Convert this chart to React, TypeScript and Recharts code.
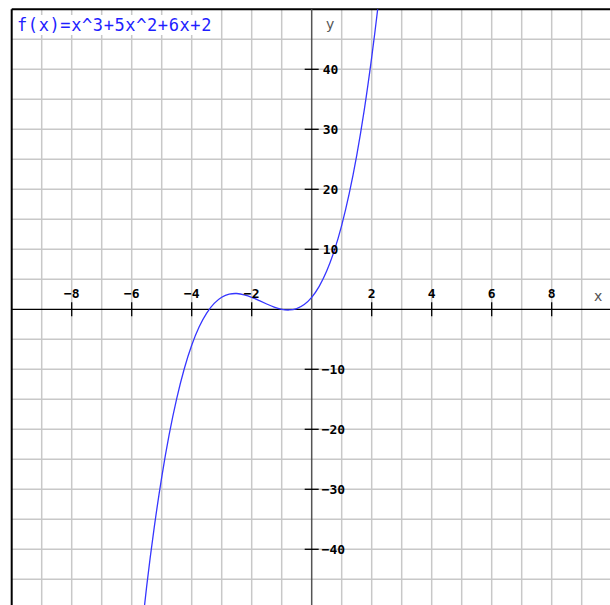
import React from 'react';
import { LineChart, Line, XAxis, YAxis, ReferenceLine, ReferenceDot } from 'recharts';

const xValues = [-5.75, -5.5, -5.25, -5, -4.75, -4.5, -4.25, -4, -3.75, -3.5, -3.25, -3, -2.75, -2.5, -2.25, -2, -1.75, -1.5, -1.25, -1, -0.75, -0.5, -0.25, 0, 0.25, 0.5, 0.75, 1, 1.25, 1.5, 1.75, 2, 2.25, 2.5];
const yValues = [-57.3, -46.13, -36.39, -28, -20.86, -14.88, -9.95, -6, -2.92, -0.63, 0.98, 2, 2.52, 2.63, 2.42, 2, 1.45, 0.88, 0.36, 0, -0.11, 0.13, 0.8, 2, 3.83, 6.38, 9.73, 14, 19.27, 25.63, 33.17, 42, 52.2, 63.9];

const xGridTicks = [-9, -8, -7, -6, -5, -4, -3, -2, -1, 1, 2, 3, 4, 5, 6, 7, 8, 9];
const yGridTicks = [-50, -45, -40, -35, -30, -25, -20, -15, -10, -5, 5, 10, 15, 20, 25, 30, 35, 40, 45];
const xTickLabels = [-8, -6, -4, -2, 2, 4, 6, 8];
const yTickLabels = [-40, -30, -20, -10, 10, 20, 30, 40];

const title = 'f(x)=x^3+5x^2+6x+2';

const data = xValues.map((x, i) => ({ x, y: yValues[i] }));

const fmt = (v: number) => (v < 0 ? '\u2212' + Math.abs(v) : String(v));

const labelFont = '"DejaVu Sans Mono", monospace';

const XTick = (value: number) => (props: any) => {
  const { cx, cy } = props;
  return (
    <g>
      <line x1={cx} x2={cx} y1={cy - 7} y2={cy + 7} stroke="#000" strokeWidth={1.3} />
      <text x={cx} y={cy - 11.5} textAnchor="middle" fontFamily={labelFont} fontWeight="bold" fontSize={13} fill="#000">
        {fmt(value)}
      </text>
    </g>
  );
};

const YTick = (value: number) => (props: any) => {
  const { cx, cy } = props;
  return (
    <g>
      <line x1={cx - 7} x2={cx + 7} y1={cy} y2={cy} stroke="#000" strokeWidth={1.3} />
      <text x={value < 0 ? cx + 10 : cx + 11} y={cy + 4.5} textAnchor="start" fontFamily={labelFont} fontWeight="bold" fontSize={13} fill="#000">
        {fmt(value)}
      </text>
    </g>
  );
};

export default function App() {
  return (
    <div style={{ position: 'fixed', left: 0, top: 0, width: 610, height: 605, overflow: 'hidden', background: '#fff' }}>
      <div style={{ position: 'absolute', left: 0, top: 0 }}>
        <LineChart width={611.7} height={609.3} data={data} margin={{ top: 9.3, left: 11.7, right: 0, bottom: 0 }}>
          <XAxis
            type="number"
            dataKey="x"
            domain={[-10, 10]}
            allowDataOverflow
            hide
          />
          <YAxis
            type="number"
            domain={[-50, 50]}
            allowDataOverflow
            hide
          />
          {xGridTicks.map((v) => (
            <ReferenceLine key={'gx' + v} x={v} stroke="#c8c8c8" strokeWidth={1.5} />
          ))}
          {yGridTicks.map((v) => (
            <ReferenceLine key={'gy' + v} y={v} stroke="#c8c8c8" strokeWidth={1.5} />
          ))}
          <ReferenceLine x={-10} stroke="#000" strokeWidth={2} />
          <ReferenceLine y={50} stroke="#000" strokeWidth={2} />
          <ReferenceLine y={0} stroke="#000" strokeWidth={1.3} />
          <ReferenceLine x={0} stroke="#555" strokeWidth={1.5} />
          <Line
            type="natural"
            dataKey="y"
            stroke="#3636ff"
            strokeWidth={1.3}
            dot={false}
            isAnimationActive={false}
          />
          {xTickLabels.map((v) => (
            <ReferenceDot key={'x' + v} x={v} y={0} r={0} shape={XTick(v)} />
          ))}
          {yTickLabels.map((v) => (
            <ReferenceDot key={'y' + v} x={0} y={v} r={0} shape={YTick(v)} />
          ))}
        </LineChart>
      </div>
      <div
        style={{
          position: 'absolute',
          left: 13,
          top: 15,
          height: 20,
          width: 200,
          background: '#fff',
          color: '#1f1fff',
          fontFamily: labelFont,
          fontSize: 17,
          letterSpacing: 0.6,
          lineHeight: '20px',
          paddingLeft: 4,
          whiteSpace: 'nowrap',
        }}
      >
        {title}
      </div>
      <div style={{ position: 'absolute', left: 326, top: 15, color: '#555', fontFamily: '"DejaVu Sans", sans-serif', fontSize: 14, lineHeight: '18px' }}>y</div>
      <div style={{ position: 'absolute', left: 594, top: 287, color: '#555', fontFamily: '"DejaVu Sans", sans-serif', fontSize: 14, lineHeight: '18px' }}>x</div>
    </div>
  );
}
